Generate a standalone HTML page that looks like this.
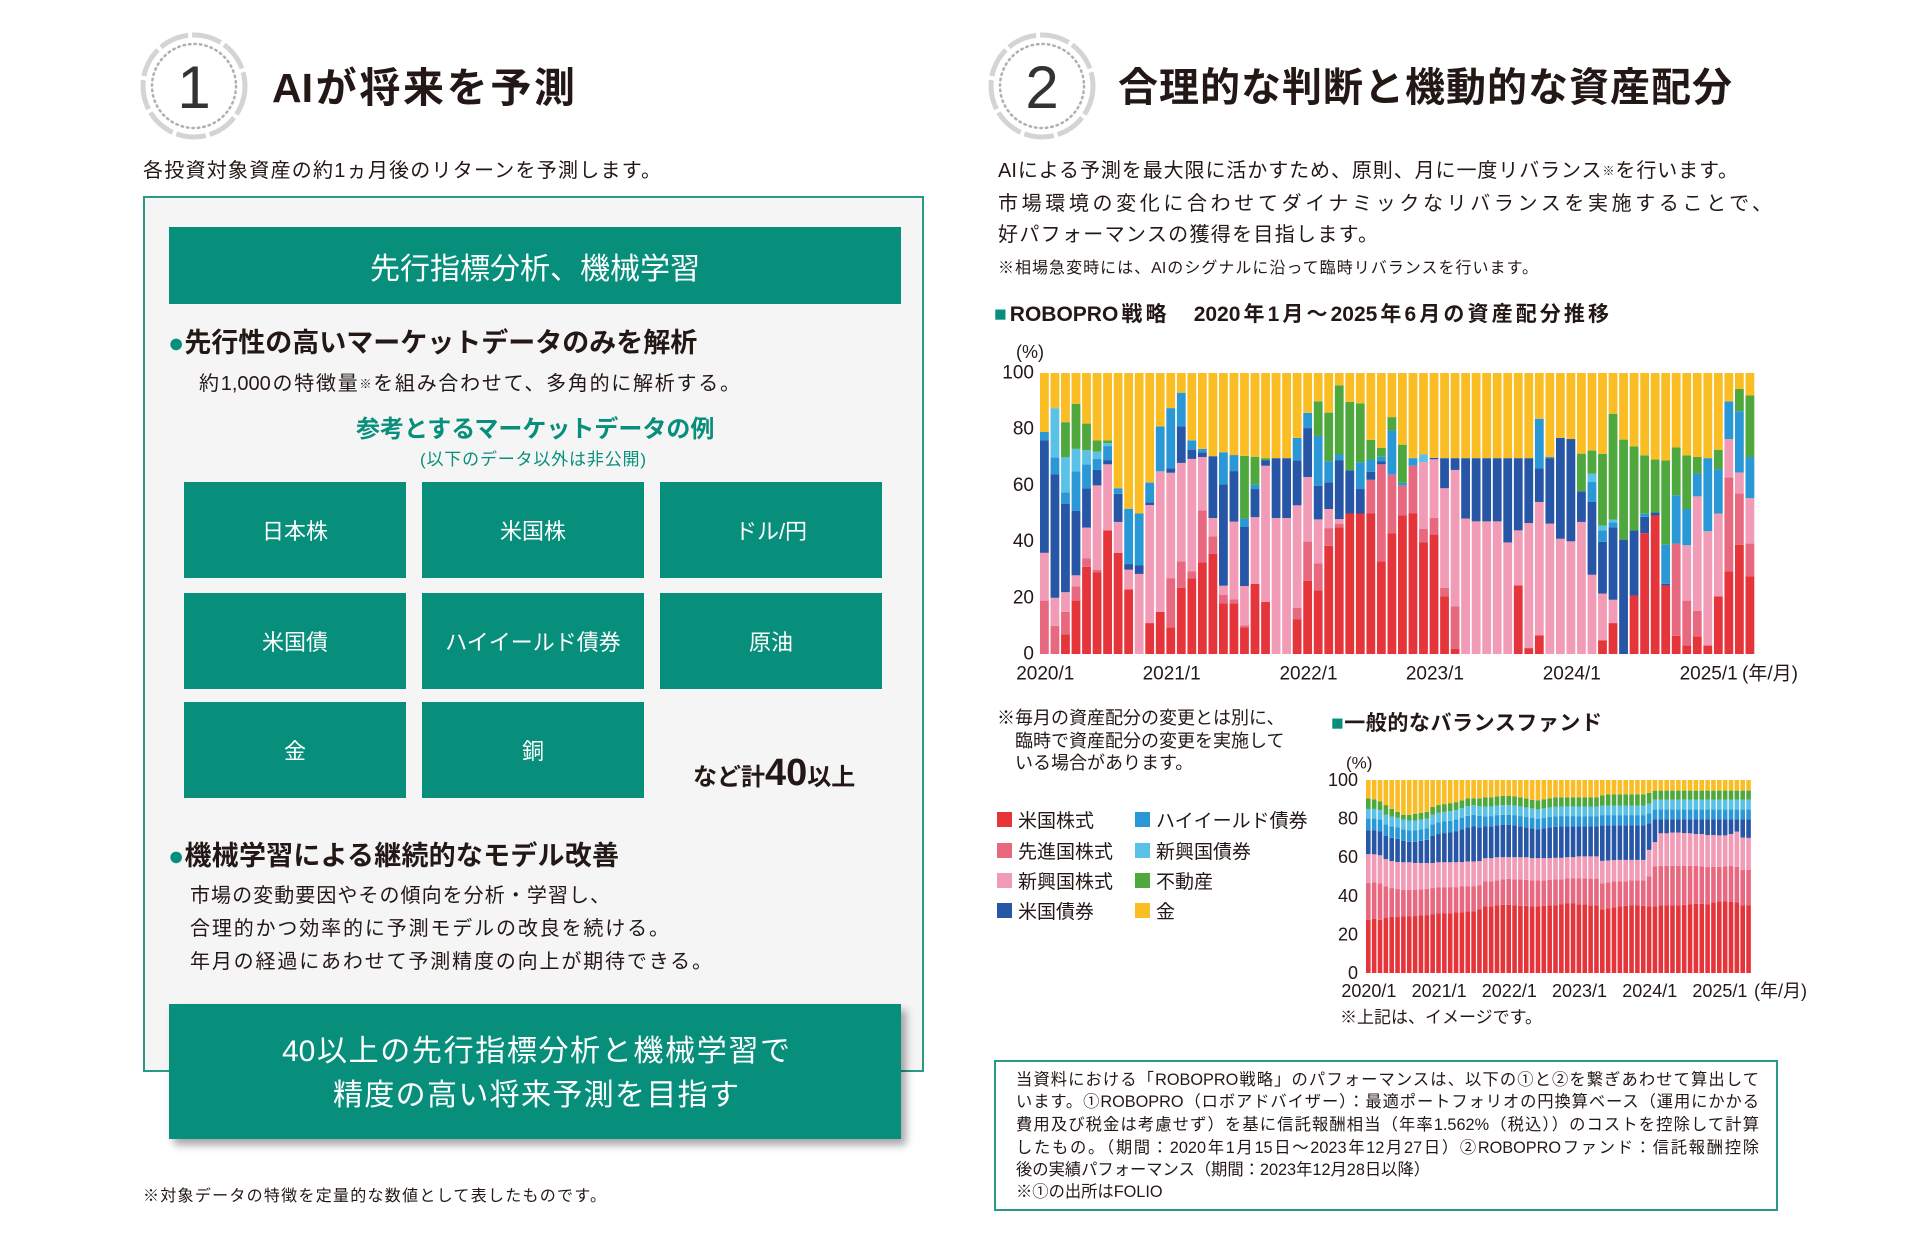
<!DOCTYPE html>
<html lang="ja"><head><meta charset="utf-8">
<style>
html,body{margin:0;padding:0;background:#fff;}
body{width:1920px;height:1233px;position:relative;overflow:hidden;font-family:"Liberation Sans","Noto Sans CJK JP",sans-serif;color:#231815;}
.a{position:absolute;white-space:nowrap;}
.j{text-align-last:justify;text-align:justify;}
.tile{position:absolute;background:#078f7c;color:#fff;font-size:22px;display:flex;align-items:center;justify-content:center;width:222px;height:96px;}
.teal{color:#078f7c;}
</style></head>
<body>
<svg class="a" style="left:134px;top:28px" width="120" height="120" viewBox="0 0 120 120">
<circle cx="60" cy="58" r="51" fill="none" stroke="#d4d4d4" stroke-width="5" stroke-dasharray="30 4"/>
<circle cx="60" cy="58" r="42" fill="none" stroke="#b0b0b0" stroke-width="2.5" stroke-dasharray="1.5 4" stroke-linecap="round"/>
<text x="60" y="80" text-anchor="middle" font-size="60" fill="#333" font-family="Liberation Sans, sans-serif">1</text>
</svg>
<div class="a j" style="left:272px;top:63px;width:303px;font-size:41px;line-height:50px;font-weight:bold;">AIが将来を予測</div>
<div class="a j" style="left:143px;top:159px;width:518px;font-size:20px;line-height:24px;">各投資対象資産の約1ヵ月後のリターンを予測します。</div>

<div class="a" style="left:143px;top:196px;width:777px;height:872px;border:2px solid #2a9a88;background:#f5f5f5;"></div>
<div class="a" style="left:169px;top:227px;width:732px;height:77px;background:#078f7c;color:#fff;font-size:30px;display:flex;align-items:center;justify-content:center;">先行指標分析、機械学習</div>
<div class="a j" style="left:168px;top:328px;width:524px;font-size:27px;line-height:31px;font-weight:bold;"><span class="teal">●</span>先行性の高いマーケットデータのみを解析</div>
<div class="a j" style="left:199px;top:372px;width:541px;font-size:20px;line-height:24px;">約1,000の特徴量<span style="font-size:12px;vertical-align:top">※</span>を組み合わせて、多角的に解析する。</div>
<div class="a j teal" style="left:356px;top:416px;width:355px;font-size:24px;line-height:28px;font-weight:bold;">参考とするマーケットデータの例</div>
<div class="a j teal" style="left:420px;top:450px;width:226px;font-size:17px;line-height:20px;">(以下のデータ以外は非公開)</div>
<div class="tile" style="left:184px;top:482px;">日本株</div>
<div class="tile" style="left:422px;top:482px;">米国株</div>
<div class="tile" style="left:660px;top:482px;">ドル/円</div>
<div class="tile" style="left:184px;top:593px;">米国債</div>
<div class="tile" style="left:422px;top:593px;">ハイイールド債券</div>
<div class="tile" style="left:660px;top:593px;">原油</div>
<div class="tile" style="left:184px;top:702px;">金</div>
<div class="tile" style="left:422px;top:702px;">銅</div>
<div class="a" style="left:693px;top:753px;font-size:24px;line-height:40px;font-weight:bold;">など計<span style="font-size:38px">40</span>以上</div>
<div class="a j" style="left:168px;top:841px;width:451px;font-size:27px;line-height:31px;font-weight:bold;"><span class="teal">●</span>機械学習による継続的なモデル改善</div>
<div class="a j" style="left:190px;top:884px;width:420px;font-size:20px;line-height:24px;">市場の変動要因やその傾向を分析・学習し、</div>
<div class="a j" style="left:190px;top:917px;width:479px;font-size:20px;line-height:24px;">合理的かつ効率的に予測モデルの改良を続ける。</div>
<div class="a j" style="left:190px;top:950px;width:522px;font-size:20px;line-height:24px;">年月の経過にあわせて予測精度の向上が期待できる。</div>
<div class="a" style="left:169px;top:1004px;width:732px;height:135px;background:#078f7c;box-shadow:5px 6px 8px rgba(0,0,0,0.35);"></div>
<div class="a j" style="left:282px;top:1035px;width:508px;font-size:30px;line-height:34px;color:#fff;">40以上の先行指標分析と機械学習で</div>
<div class="a j" style="left:333px;top:1079px;width:406px;font-size:30px;line-height:34px;color:#fff;">精度の高い将来予測を目指す</div>
<div class="a j" style="left:143px;top:1187px;width:463px;font-size:16px;line-height:19px;">※対象データの特徴を定量的な数値として表したものです。</div>

<svg class="a" style="left:982px;top:28px" width="120" height="120" viewBox="0 0 120 120">
<circle cx="60" cy="58" r="51" fill="none" stroke="#d4d4d4" stroke-width="5" stroke-dasharray="30 4"/>
<circle cx="60" cy="58" r="42" fill="none" stroke="#b0b0b0" stroke-width="2.5" stroke-dasharray="1.5 4" stroke-linecap="round"/>
<text x="60" y="80" text-anchor="middle" font-size="60" fill="#333" font-family="Liberation Sans, sans-serif">2</text>
</svg>
<div class="a j" style="left:1118px;top:63px;width:614px;font-size:40px;line-height:50px;font-weight:bold;">合理的な判断と機動的な資産配分</div>
<div class="a j" style="left:998px;top:159px;width:740px;font-size:20px;line-height:24px;">AIによる予測を最大限に活かすため、原則、月に一度リバランス<span style="font-size:12px;vertical-align:top">※</span>を行います。</div>
<div class="a j" style="left:998px;top:192px;width:774px;font-size:20px;line-height:24px;">市場環境の変化に合わせてダイナミックなリバランスを実施することで、</div>
<div class="a j" style="left:998px;top:223px;width:380px;font-size:20px;line-height:24px;">好パフォーマンスの獲得を目指します。</div>
<div class="a j" style="left:998px;top:259px;width:540px;font-size:16px;line-height:19px;">※相場急変時には、AIのシグナルに沿って臨時リバランスを行います。</div>
<div class="a j" style="left:994px;top:302px;width:615px;font-size:21px;line-height:25px;font-weight:bold;"><span class="teal">■</span>ROBOPRO戦略　2020年1月～2025年6月の資産配分推移</div>

<div class="a" style="left:997px;top:708px;font-size:18px;line-height:21px;">※毎月の資産配分の変更とは別に、</div>
<div class="a" style="left:1015px;top:731px;font-size:18px;line-height:21px;">臨時で資産配分の変更を実施して</div>
<div class="a" style="left:1015px;top:753px;font-size:18px;line-height:21px;">いる場合があります。</div>

<div class="a" style="left:997px;top:810px;width:320px;height:120px;font-size:19px;line-height:22px;">
<div class="a" style="left:0;top:1px;"><span style="display:inline-block;width:15px;height:15px;background:#e5343a;margin-right:6px;"></span>米国株式</div>
<div class="a" style="left:0;top:32px;"><span style="display:inline-block;width:15px;height:15px;background:#e8687f;margin-right:6px;"></span>先進国株式</div>
<div class="a" style="left:0;top:62px;"><span style="display:inline-block;width:15px;height:15px;background:#f19bb6;margin-right:6px;"></span>新興国株式</div>
<div class="a" style="left:0;top:92px;"><span style="display:inline-block;width:15px;height:15px;background:#2856a6;margin-right:6px;"></span>米国債券</div>
<div class="a" style="left:138px;top:1px;"><span style="display:inline-block;width:15px;height:15px;background:#2a98d7;margin-right:6px;"></span>ハイイールド債券</div>
<div class="a" style="left:138px;top:32px;"><span style="display:inline-block;width:15px;height:15px;background:#5bc2e7;margin-right:6px;"></span>新興国債券</div>
<div class="a" style="left:138px;top:62px;"><span style="display:inline-block;width:15px;height:15px;background:#4ea83d;margin-right:6px;"></span>不動産</div>
<div class="a" style="left:138px;top:92px;"><span style="display:inline-block;width:15px;height:15px;background:#fbbd24;margin-right:6px;"></span>金</div>
</div>

<div class="a j" style="left:1331px;top:711px;width:271px;font-size:21px;line-height:25px;font-weight:bold;"><span class="teal">■</span>一般的なバランスファンド</div>
<div class="a" style="left:1340px;top:1008px;font-size:17px;line-height:20px;">※上記は、イメージです。</div>

<div class="a" style="left:994px;top:1060px;width:780px;height:147px;border:2px solid #2a9a88;"></div>
<div class="a j" style="left:1016px;top:1071px;width:743px;font-size:16.3px;line-height:19px;">当資料における「ROBOPRO戦略」のパフォーマンスは、以下の①と②を繋ぎあわせて算出して</div>
<div class="a j" style="left:1016px;top:1093px;width:743px;font-size:16.3px;line-height:19px;">います。①ROBOPRO（ロボアドバイザー）：最適ポートフォリオの円換算ベース（運用にかかる</div>
<div class="a j" style="left:1016px;top:1116px;width:743px;font-size:16.3px;line-height:19px;">費用及び税金は考慮せず）を基に信託報酬相当（年率1.562%（税込））のコストを控除して計算</div>
<div class="a j" style="left:1016px;top:1139px;width:743px;font-size:16.3px;line-height:19px;">したもの。（期間：2020年1月15日～2023年12月27日）②ROBOPROファンド：信託報酬控除</div>
<div class="a" style="left:1016px;top:1161px;font-size:16.3px;line-height:19px;">後の実績パフォーマンス（期間：2023年12月28日以降）</div>
<div class="a" style="left:1016px;top:1183px;font-size:16.3px;line-height:19px;">※①の出所はFOLIO</div>

<svg id="charts" class="a" style="left:0;top:0" width="1920" height="1233"></svg>

<script>
// ===== ROBOPRO allocation (68 rebalances) =====
const roboTickIndex = [0, 12, 25, 37, 50, 63];
const roboTickLabels = ["2020/1", "2021/1", "2022/1", "2023/1", "2024/1", "2025/1"];
const yTicks = [0, 20, 40, 60, 80, 100];
const roboUsStocks = [0,0,7,19,31,29,44,36,23,0,11,15,9.5,23.5,27,32.6,35.6,18,18,9.5,25,18.5,0,0,12.4,26,22.7,38.5,45,50,50,50,33,43,49.3,50,39.7,42.5,20.5,1.9,0,0,0,0,0,24.4,2.1,6.6,0,0,0,0,0,4.9,11,0,20.8,43,49.3,24.4,6.5,3,6.3,3,20.5,29.4,38.9,27.6];
const roboDevStocks = [19,10,8,5,3,1,0,0,0,0,0,0,17.5,9.5,2.5,18.5,6.3,3,1.5,0.7,0,0,0,0,4,14,9.5,6.3,1.4,0,0,12,34.5,20.8,10.7,17,4.9,6,3,15,0,0,0,0,0,0,0,0,0,0,0,0,0,0,0,0,0,0,0,0,32.8,16,9.1,0,0,33.5,18.2,11.7];
const roboEmStocks = [17,10,7,4,11,30,23.5,11,7,28.5,42,50,37.5,35,40,19,6.5,3.3,27.6,14,23.7,48.5,48.4,48.4,36.5,23,15.7,6.8,1.6,0,0,0,0,0,0,0,23.7,20.8,35.5,48.6,48.2,47.2,47.2,47.2,39.7,19.6,44.5,47.5,46.4,41,40.1,47,28.2,16.6,8.3,0,0,0,0,0,0,19.7,40.7,40.7,29.5,13.6,7.5,16.2];
const roboUsBonds = [40,44,31.5,23,14,5.5,1.5,10,2,3,1,0,1.5,13,3.3,1.7,22,36,18,21,10,2,21.3,21.3,16,17.4,12,9.5,21,15.4,8.7,2.8,1,0,0,0,0,0.5,10.7,4.2,21.5,22.5,22.5,22.5,30,25.7,23.1,11.9,23.3,35.9,36.4,10.9,25.9,18.4,25.7,40.7,23.2,5.8,1.1,0.6,0,0,0,0,0,0,0,0];
const roboHighYield = [3,6,4,14,8.5,4,5,2,19.7,18.5,7,16,21.5,12,3.3,1.2,0,11.5,5.7,3,1.5,0,0,0,8,5.4,17.7,7.5,2,0,9.5,4.4,1.7,15.7,0.9,2.7,0,0,0,0,0,0,0,0,0,0,0,17.7,0.4,0,0,0,7.1,4.1,1.9,0,0,1.1,0,13.9,17.2,12.9,8.1,26,15.8,13.4,21.8,14.6];
const roboEmBonds = [0,17.5,12.5,8,5,2.5,1,0,0,0,0,0,0,0,0,0,0,0,0,0,0,0,0,0,0,0,0,0,0,0,0,0,0,0,0,0,2.7,0,0,0,0,0,0,0,0,0,0,0,0,0,0,0,3,1.7,0.9,0,0,0,0,0,0,0,0,0,0,0,0,0];
const roboRealEstate = [0,0,12.5,16,9.5,4,1,0,0,0,0,0,0,0,0,0,0,0,0,22.3,10,0.7,0,0,0,0,12.3,17.3,24.6,24.3,21,7,3.2,4.8,13.6,0,0,0,0,0,0,0,0,0,0,0,0,0,0,0,0,13.4,8.2,25.5,37.7,35.6,29.9,20.8,18.8,30,17,19.1,5.9,0,6.9,0,7.9,21.9];
const roboGold = [21,12.5,17.5,11,18,24,24,41,48.3,50,39,19,12.5,7,24,27,29.6,28.2,29.2,29.5,29.8,30.3,30.3,30.3,23.1,14.2,10.1,14.1,4.4,10.3,10.8,23.8,26.6,15.7,25.5,30.3,29,30.2,30.3,30.3,30.3,30.3,30.3,30.3,30.3,30.3,30.3,16.3,29.9,23.1,23.5,28.7,27.6,28.8,14.5,23.7,26.1,29.3,30.8,31.1,26.5,29.3,29.9,30.3,27.3,10.1,5.7,8];

// ===== General balance fund (66 months) =====
const fundTickIndex = [0, 12, 24, 36, 48, 60];
const fundTickLabels = ["2020/1", "2021/1", "2022/1", "2023/1", "2024/1", "2025/1"];
const fundUsStocks = [27.6,28,27.6,28.5,29,29,29.3,29.3,29.5,29.8,30,30.5,31,31,31,31.5,31.5,32,32,33,34.5,34.5,35,35.3,35.3,35,34.8,34.8,34.5,34.5,34.8,35,35,35.5,36,36.2,35.5,35.5,35,35,33,33.5,34,34.5,34.8,35,35,34.8,34.5,34.5,35,35,35,35,35.3,35.5,35.8,35.8,35.5,36.5,37,37.2,36.8,36.5,35,35];
const fundDevStocks = [19,19,18.9,16.5,15,14.5,13.7,13.7,13.5,13.6,13.5,13.5,13.3,13.3,13.5,13,13.5,13,13,12.5,12.9,13,13,13.2,13.5,13.5,13.7,13.5,13.5,13.5,13.2,13.3,13.5,13,13,12.8,13.5,13.5,13.8,13.8,13.5,13.5,13.5,13,12.7,13,13,13.2,15.5,20.7,20.5,20.5,20.5,20.5,20.2,20,19.7,19.4,19.5,18.5,18,18,18.7,18.5,18.5,18.5];
const fundEmStocks = [15,14.5,14.5,14,14,14,14.4,14.4,14,13.6,13.5,13,13.1,13.1,12.9,12.9,12.5,12.8,12.8,12.5,12.1,12,12,11.5,11.2,11.5,11.5,11.7,11.5,11.5,11.5,11.2,11.2,11.2,11,11,11.3,11.3,11.5,11.5,11.6,11.3,11,11.1,11.1,10.6,10.6,10.6,13.8,12.6,16.9,16.9,17.3,17.3,17,16.9,16.5,16.8,16.5,16.5,16.3,16.1,16.5,18.3,16.7,16.5];
const fundUsBonds = [12.4,12.5,12.5,12,12,12,11,10.6,11,11.5,12,14,14.6,15.1,15.4,16.1,17,17.7,18.1,17.5,16.4,16.5,16.5,16.7,16.7,16.5,16,15.5,15.5,15,15.5,16,16.1,16.3,16,16,15.5,15.5,15.5,15.5,18.4,18.2,18,17.9,17.9,17.9,17.9,17.9,13.8,11.9,7.3,7.3,6.9,6.9,7.2,7.3,7.7,7.7,8.2,8.2,8.4,8.4,7.7,6.4,9.5,9.7];
const fundHighYield = [6,6,6,6,6,6,6,6,6,6,6,6,6,6,6,6,6,6,6,6,5.3,5.3,5.3,5.3,5.3,5.3,5.3,5.3,5.3,5.3,5.3,5.3,5.3,5.3,5.3,5.3,5.3,5.3,5.3,5.3,5.3,5.3,5.3,5.3,5.3,5.3,5.3,5.3,5.1,5.1,5.1,5.1,5.1,5.1,5.1,5.1,5.1,5.1,5.1,5.1,5.1,5.1,5.1,5.1,5.1,5.1];
const fundEmBonds = [5,5,5,5,5,5,5,5,5,5,5,5,5,5,5,5,5,5,5,5,5,5,5,5,5,5,5,5,5,5,5,5,5,5,5,5,5,5,5,5,5,5,5,5,5,5,5,5,5,5,5,5,5,5,5,5,5,5,5,5,5,5,5,5,5,5];
const fundRealEstate = [5.5,5,4.5,5,4,3,2.6,3,3.5,3.5,3.5,4,4,4,4.2,4,4,4,3.6,4,4.8,4.7,4.7,4.7,4.7,4.7,4.7,4.7,4.4,4.7,4.7,4.7,4.9,4.7,4.7,4.7,4.7,4.7,4.7,4.7,5.2,5.8,5.8,5.8,5.8,5.8,5.8,5.8,5.7,4.7,4.7,4.7,4.7,4.7,4.7,4.7,4.7,4.7,4.7,4.7,4.7,4.7,4.7,4.7,4.7,4.7];
const fundGold = [9.5,10,11,13,15,16.5,18,18,17.5,17,16.5,14,13,12.5,12,11.5,10.5,9.5,9.5,9.5,9,9,8.5,8.3,8.3,8.5,9,9.5,10.3,10.5,10,9.5,9,9,9,9,9,9,9,9,8,7.4,7.4,7.4,7.4,7.4,7.4,7.4,6.6,5.5,5.5,5.5,5.5,5.5,5.5,5.5,5.5,5.5,5.5,5.5,5.5,5.5,5.5,5.5,5.5,5.5];

const seriesColors = ["#e5343a","#e8687f","#f19bb6","#2856a6","#2a98d7","#5bc2e7","#4ea83d","#fbbd24"];
const seriesNames = ["us-stocks","developed-stocks","emerging-stocks","us-bonds","high-yield","emerging-bonds","real-estate","gold"];

const NS = "http://www.w3.org/2000/svg";
const svg = document.getElementById("charts");
function mk(tag, attrs, parent) {
  const e = document.createElementNS(NS, tag);
  for (const k in attrs) e.setAttribute(k, attrs[k]);
  (parent || svg).appendChild(e);
  return e;
}

function drawChart(cfg) {
  const g = mk("g", {});
  
  
  const n = cfg.series[0].length;
  const y = v => cfg.y0 + (cfg.y100 - cfg.y0) * v / 100;
  const xCenter = i => cfg.left + cfg.pitch * (i + 0.5);
  for (let i = 0; i < n; i++) {
    let total = 0;
    cfg.series.forEach(s => total += s[i]);
    let cum = 0;
    cfg.series.forEach((s, k) => {
      const v = s[i] / total * 100;
      if (v <= 0) return;
      const r = mk("rect", {x: cfg.left + cfg.pitch * i, y: y(cum + v), width: cfg.barW, height: y(cum) - y(cum + v), fill: seriesColors[k]}, g);
      
      
      cum += v;
    });
  }
  yTicks.forEach(t => {
    const tx = mk("text", {x: cfg.yLabelX, y: y(t), "text-anchor": "end", "dominant-baseline": "central", "font-size": cfg.fs, fill: "#231815"}, g);
    tx.textContent = t;
    
    
  });
  cfg.tickIndex.forEach((ti, k) => {
    const tx = mk("text", {x: xCenter(ti), y: cfg.xLabelY, "text-anchor": "middle", "dominant-baseline": "central", "font-size": cfg.fs, fill: "#231815"}, g);
    tx.textContent = cfg.tickLabels[k];
    
    
  });
  const unit = mk("text", {x: cfg.unitX, y: cfg.xLabelY, "dominant-baseline": "central", "font-size": cfg.fs, fill: "#231815"}, g);
  unit.textContent = "(年/月)";
  
  
  const pct = mk("text", {x: cfg.pctX, y: cfg.pctY, "dominant-baseline": "central", "font-size": cfg.fs - 1, fill: "#231815"}, g);
  pct.textContent = "(%)";
  
  
}

drawChart({
  name: "robopro-chart", left: 1040, pitch: 10.53, barW: 8.8, y0: 654, y100: 373,
  series: [roboUsStocks, roboDevStocks, roboEmStocks, roboUsBonds, roboHighYield, roboEmBonds, roboRealEstate, roboGold],
  tickIndex: roboTickIndex, tickLabels: roboTickLabels,
  yLabelX: 1034, xLabelY: 674, unitX: 1742, pctX: 1016, pctY: 352, fs: 19
});
drawChart({
  name: "balance-fund-chart", left: 1366, pitch: 5.85, barW: 4.6, y0: 973, y100: 780,
  series: [fundUsStocks, fundDevStocks, fundEmStocks, fundUsBonds, fundHighYield, fundEmBonds, fundRealEstate, fundGold],
  tickIndex: fundTickIndex, tickLabels: fundTickLabels,
  yLabelX: 1358, xLabelY: 991, unitX: 1754, pctX: 1346, pctY: 763, fs: 18
});
</script>
</body></html>
